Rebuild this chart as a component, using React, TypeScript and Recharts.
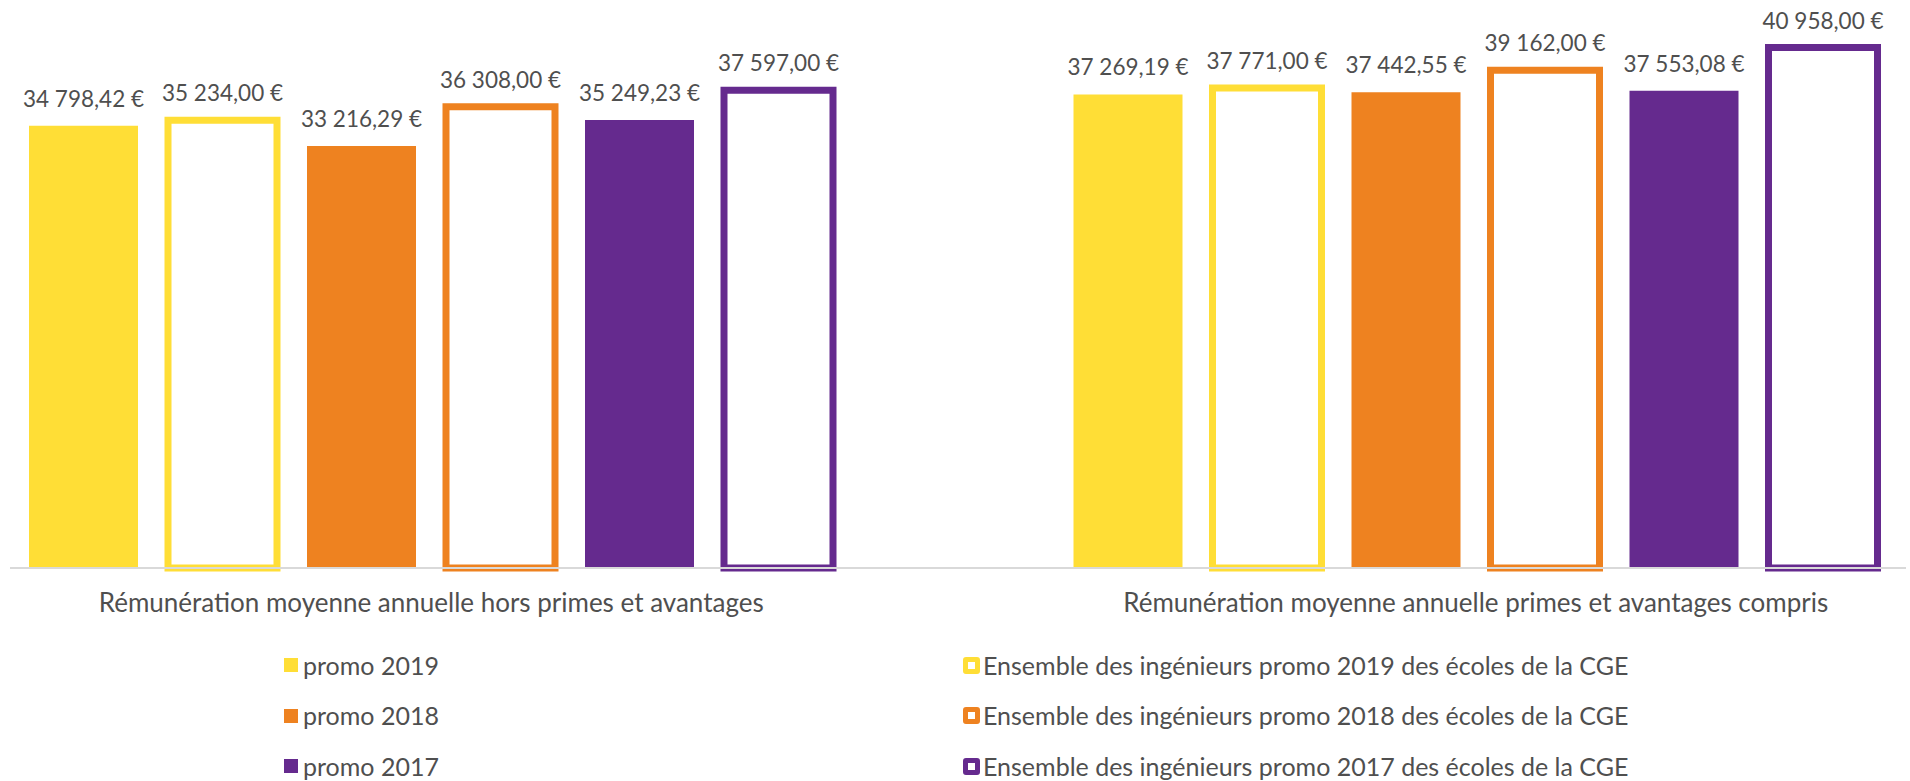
import React from 'react';
import {BarChart, Bar, XAxis, YAxis, LabelList, Legend} from 'recharts';

const categories = [
    'Rémunération moyenne annuelle hors primes et avantages',
    'Rémunération moyenne annuelle primes et avantages compris',
];

const promo2019 = [34798.42, 37269.19];
const cge2019 = [35234.0, 37771.0];
const promo2018 = [33216.29, 37442.55];
const cge2018 = [36308.0, 39162.0];
const promo2017 = [35249.23, 37553.08];
const cge2017 = [37597.0, 40958.0];

const seriesNames = [
    'promo 2019',
    'Ensemble des ingénieurs promo 2019 des écoles de la CGE',
    'promo 2018',
    'Ensemble des ingénieurs promo 2018 des écoles de la CGE',
    'promo 2017',
    'Ensemble des ingénieurs promo 2017 des écoles de la CGE',
];

const YELLOW = '#FFDE36';
const ORANGE = '#EE8220';
const PURPLE = '#652A8E';
const TEXT = '#4F4F4F';
const FONT = 'Lato, sans-serif';

const series = [
    {key: 'p2019', name: seriesNames[0], values: promo2019, color: YELLOW, outline: false},
    {key: 'c2019', name: seriesNames[1], values: cge2019, color: YELLOW, outline: true},
    {key: 'p2018', name: seriesNames[2], values: promo2018, color: ORANGE, outline: false},
    {key: 'c2018', name: seriesNames[3], values: cge2018, color: ORANGE, outline: true},
    {key: 'p2017', name: seriesNames[4], values: promo2017, color: PURPLE, outline: false},
    {key: 'c2017', name: seriesNames[5], values: cge2017, color: PURPLE, outline: true},
];

const data = categories.map((category, i) => {
    const row: any = {category};
    series.forEach(s => {
        row[s.key] = s.values[i];
    });
    return row;
});

// 34798.42 -> "34 798,42 €"
const euro = (v: any) => {
    const [int, dec] = Number(v).toFixed(2).split('.');
    return int.replace(/\B(?=(\d{3})+(?!\d))/g, ' ') + ',' + dec + ' €';
};

const LegendBox = () => (
    <div style={{
        display: 'grid',
        gridTemplateColumns: '679px auto',
        paddingLeft: 284,
        fontFamily: FONT,
        fontSize: 25,
        color: TEXT,
        lineHeight: 1,
    }}>
        {series.map(s => (
            <div key={s.key} style={{display: 'flex', alignItems: 'center', height: 50.5}}>
                {s.outline ? (
                    <span style={{
                        display: 'inline-block', width: 17, height: 17, boxSizing: 'border-box',
                        border: `5px solid ${s.color}`, borderRadius: 3, background: '#fff', marginRight: 3,
                    }}/>
                ) : (
                    <span style={{
                        display: 'inline-block', width: 14, height: 14, background: s.color, marginRight: 5,
                    }}/>
                )}
                <span>{s.name}</span>
            </div>
        ))}
    </div>
);

const App = () => {
    return (
        <div style={{position: 'absolute', left: 0, top: 0}}>
            <BarChart
                width={1910}
                height={781}
                data={data}
                margin={{top: 0, right: 4, left: 10, bottom: 153}}
                barSize={109}
                barGap={30}
                style={{fontFamily: FONT}}
            >
                <YAxis hide domain={[0, 44700]}/>
                {series.map(s => (
                    <Bar
                        key={s.key}
                        dataKey={s.key}
                        name={s.name}
                        fill={s.outline ? '#ffffff' : s.color}
                        stroke={s.outline ? s.color : 'none'}
                        strokeWidth={s.outline ? 7 : 0}
                        isAnimationActive={false}
                    >
                        <LabelList
                            dataKey={s.key}
                            position="top"
                            offset={19}
                            formatter={euro}
                            fill={TEXT}
                            fontSize={22.5}
                            fontFamily={FONT}
                        />
                    </Bar>
                ))}
                <XAxis
                    dataKey="category"
                    interval={0}
                    tickLine={false}
                    tickSize={0}
                    tickMargin={26}
                    height={60}
                    padding={{left: -101, right: -92}}
                    axisLine={{stroke: '#D9D9D9', strokeWidth: 2}}
                    tick={{fill: TEXT, fontSize: 26, fontFamily: FONT}}
                />
                <Legend
                    layout="horizontal"
                    verticalAlign="middle"
                    align="center"
                    content={() => <LegendBox/>}
                    wrapperStyle={{left: 0, top: 640, width: 1910}}
                />
            </BarChart>
        </div>
    );
};

export default App;
